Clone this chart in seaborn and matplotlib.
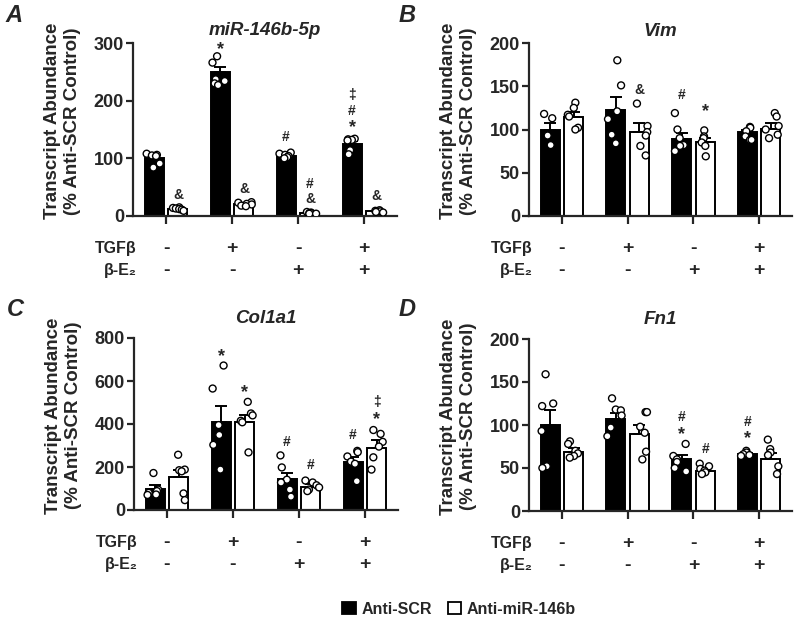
import numpy as np
import pandas as pd
import matplotlib
matplotlib.use('Agg')
import matplotlib.pyplot as plt
import matplotlib.transforms as mtransforms
from matplotlib.patches import Patch
import seaborn as sns

# stripplot jitter
np.random.seed(7)

# ## Veriler

conditions = ['c1', 'c2', 'c3', 'c4']
tgfb_signs = ['-', '+', '-', '+']
e2_signs = ['-', '-', '+', '+']
treatments = ['Anti-SCR', 'Anti-miR-146b']

# miR-146b-5p
mir_scr_mean = [100, 250, 104, 125]
mir_scr_sem = [3.5, 8, 1.5, 4.5]
mir_anti_mean = [12, 20, 5, 8]
mir_anti_sem = [1, 1.5, 0.5, 0.8]
mir_scr_pts = [[108, 106, 105, 104, 91, 84], [277, 266, 237, 234, 230, 227],
               [110, 108, 106, 104, 102, 100], [134, 133, 132, 131, 114, 107]]
mir_anti_pts = [[15, 14, 13, 12, 11, 9], [24, 23, 21, 20, 18, 17],
                [7, 6, 5, 5, 4, 4], [10, 9, 8, 8, 7, 6]]

# Vim
vim_scr_mean = [100, 122, 89, 97]
vim_scr_sem = [7, 15, 7, 3]
vim_anti_mean = [115, 97, 85, 101]
vim_anti_sem = [5, 10, 5, 6]
vim_scr_pts = [[118, 113, 94, 93, 82], [180, 151, 121, 112, 94, 84],
               [119, 100, 90, 82, 81, 75], [103, 102, 98, 92, 88, 88]]
vim_anti_pts = [[131, 125, 117, 115, 102, 100], [130, 104, 97, 93, 81, 70],
                [99, 92, 90, 85, 81, 69], [119, 115, 104, 100, 94, 90]]

# Col1a1
col_scr_mean = [98, 411, 142, 223]
col_scr_sem = [20, 75, 32, 22]
col_anti_mean = [152, 410, 108, 290]
col_anti_sem = [35, 30, 14, 36]
col_scr_pts = [[172, 95, 88, 80, 72, 70], [672, 565, 395, 349, 303, 188],
               [254, 198, 141, 128, 95, 62], [275, 269, 249, 225, 215, 134]]
col_anti_pts = [[257, 188, 185, 180, 77, 46], [503, 449, 440, 415, 408, 268],
                [137, 128, 115, 105, 95, 88], [372, 354, 317, 295, 245, 188]]

# Fn1
fn_scr_mean = [100, 107, 60, 66]
fn_scr_sem = [18, 7, 5, 2]
fn_anti_mean = [69, 90, 47, 61]
fn_anti_sem = [4, 10, 2, 6]
fn_scr_pts = [[159, 125, 122, 93, 52, 50], [131, 118, 117, 111, 97, 87],
              [78, 64, 60, 57, 50, 46], [70, 68, 66, 65, 64]]
fn_anti_pts = [[81, 78, 70, 67, 64, 62], [115, 115, 98, 91, 69, 60],
               [55, 52, 49, 47, 45, 43], [83, 72, 68, 65, 52, 43]]

# anlamlılık işaretleri: (koşul, tedavi, sembol, y)
mir_notes = [(0, 1, '&', 37), (1, 0, '*', 288), (1, 1, '&', 46), (2, 0, '#', 137),
             (2, 1, '#', 55), (2, 1, '&', 29), (3, 0, '‡', 209), (3, 0, '#', 182),
             (3, 0, '*', 153), (3, 1, '&', 34)]
vim_notes = [(1, 1, '&', 146), (2, 0, '#', 140), (2, 1, '*', 121)]
col_notes = [(1, 0, '*', 715), (1, 1, '*', 545), (2, 0, '#', 318), (2, 1, '#', 211),
             (3, 0, '#', 349), (3, 1, '‡', 503), (3, 1, '*', 422)]
fn_notes = [(2, 0, '#', 109), (2, 0, '*', 89), (2, 1, '#', 72), (3, 0, '#', 103),
            (3, 0, '*', 84)]

# ## Çizim

sns.set_style('ticks')
plt.rcParams['font.family'] = ['Liberation Sans', 'DejaVu Sans']
plt.rcParams['font.weight'] = 'bold'
plt.rcParams['axes.linewidth'] = 1.6

bar_colors = {'Anti-SCR': 'black', 'Anti-miR-146b': 'white'}
dot_colors = {'Anti-SCR': 'white', 'Anti-miR-146b': 'white'}
offsets = [-0.18, 0.18]


def panel_ciz(ax, title, title_y, scr_mean, scr_sem, anti_mean, anti_sem,
              scr_pts, anti_pts, yticks, notes):
    bar_df = pd.DataFrame({
        'cond': conditions * 2,
        'treat': [t for t in treatments for _ in conditions],
        'value': scr_mean + anti_mean,
    })
    rows = []
    for t, pts in zip(treatments, [scr_pts, anti_pts]):
        for c, vals in zip(conditions, pts):
            for v in vals:
                rows.append((c, t, v))
    pt_df = pd.DataFrame(rows, columns=['cond', 'treat', 'value'])

    sns.barplot(data=bar_df, x='cond', y='value', hue='treat', order=conditions,
                hue_order=treatments, palette=bar_colors, edgecolor='black',
                linewidth=1.4, width=0.72, gap=0.2, errorbar=None, legend=False, ax=ax)

    for p, s in zip(list(ax.patches), scr_sem + anti_sem):
        x = p.get_x() + p.get_width() / 2
        ax.errorbar(x, p.get_height(), yerr=[[0], [s]], color='black', capsize=4,
                    elinewidth=1.4, capthick=1.4, zorder=2)

    sns.stripplot(data=pt_df, x='cond', y='value', hue='treat', order=conditions,
                  hue_order=treatments, dodge=True, jitter=0.22, palette=dot_colors,
                  edgecolor='black', linewidth=1.0, size=5, legend=False, ax=ax,
                  zorder=3)

    ax.set_xlim(-0.5, 3.5)
    ax.set_ylim(0, yticks[-1])
    ax.set_yticks(yticks)
    ax.set_xticks(range(4))
    ax.set_xticklabels([])
    ax.set_xlabel('')
    ax.set_ylabel('')
    ax.tick_params(axis='y', length=5, width=1.6, pad=1.5, labelsize=13)
    ax.tick_params(axis='x', length=5.5, width=1.6)
    for lbl in ax.get_yticklabels():
        lbl.set_fontweight('bold')
    sns.despine(ax=ax)

    ax.text(0.5, title_y, title, transform=ax.transAxes, ha='center', va='center',
            fontsize=13.5, fontweight='bold', fontstyle='italic')
    ax.text(-0.268, 0.55, 'Transcript Abundance\n(% Anti-SCR Control)',
            transform=ax.transAxes, rotation=90, ha='center', va='center',
            fontsize=13.5, fontweight='bold', multialignment='center')

    for ci, hi, sym, y in notes:
        ax.text(ci + offsets[hi], y, sym, ha='center', va='center',
                fontsize=13 if sym == '*' else 10, fontweight='bold')

    trans = mtransforms.blended_transform_factory(ax.transData, ax.transAxes)
    ax.text(0.015, -0.19, 'TGFβ', transform=ax.transAxes, ha='right', va='center',
            fontsize=11.5, fontweight='bold')
    ax.text(0.015, -0.315, 'β-E₂', transform=ax.transAxes, ha='right', va='center',
            fontsize=11.5, fontweight='bold')
    for i in range(4):
        ax.text(i, -0.19, tgfb_signs[i], transform=trans, ha='center', va='center',
                fontsize=14, fontweight='bold')
        ax.text(i, -0.315, e2_signs[i], transform=trans, ha='center', va='center',
                fontsize=14, fontweight='bold')


fig = plt.figure(figsize=(8, 6.24), dpi=100)
W, H = 800, 624


def eksen(left, top, right, bottom):
    return fig.add_axes([left / W, 1 - bottom / H, (right - left) / W, (bottom - top) / H])


ax_a = eksen(133, 43, 397, 216)
ax_b = eksen(529, 43, 792, 216)
ax_c = eksen(134, 338, 398, 510)
ax_d = eksen(529, 339, 792, 511)

panel_ciz(ax_a, 'miR-146b-5p', 1.075, mir_scr_mean, mir_scr_sem, mir_anti_mean,
          mir_anti_sem, mir_scr_pts, mir_anti_pts, [0, 100, 200, 300], mir_notes)
panel_ciz(ax_b, 'Vim', 1.065, vim_scr_mean, vim_scr_sem, vim_anti_mean,
          vim_anti_sem, vim_scr_pts, vim_anti_pts, [0, 50, 100, 150, 200], vim_notes)
panel_ciz(ax_c, 'Col1a1', 1.115, col_scr_mean, col_scr_sem, col_anti_mean,
          col_anti_sem, col_scr_pts, col_anti_pts, [0, 200, 400, 600, 800], col_notes)
panel_ciz(ax_d, 'Fn1', 1.115, fn_scr_mean, fn_scr_sem, fn_anti_mean,
          fn_anti_sem, fn_scr_pts, fn_anti_pts, [0, 50, 100, 150, 200], fn_notes)

for harf, x, y in [('A', 14, 15), ('B', 407, 15), ('C', 15, 310), ('D', 407, 310)]:
    fig.text(x / W, 1 - y / H, harf, ha='center', va='center', fontsize=17,
             fontweight='bold', fontstyle='italic')

handles = [Patch(facecolor='black', edgecolor='black', linewidth=1.3),
           Patch(facecolor='white', edgecolor='black', linewidth=1.3)]
fig.legend(handles, treatments, loc='center', bbox_to_anchor=(459 / W, 1 - 609 / H),
           ncol=2, frameon=False, handlelength=0.85, handleheight=0.85,
           handletextpad=0.35, columnspacing=1.0, prop={'weight': 'bold', 'size': 11.5})

fig.savefig('out.png', dpi=100)
